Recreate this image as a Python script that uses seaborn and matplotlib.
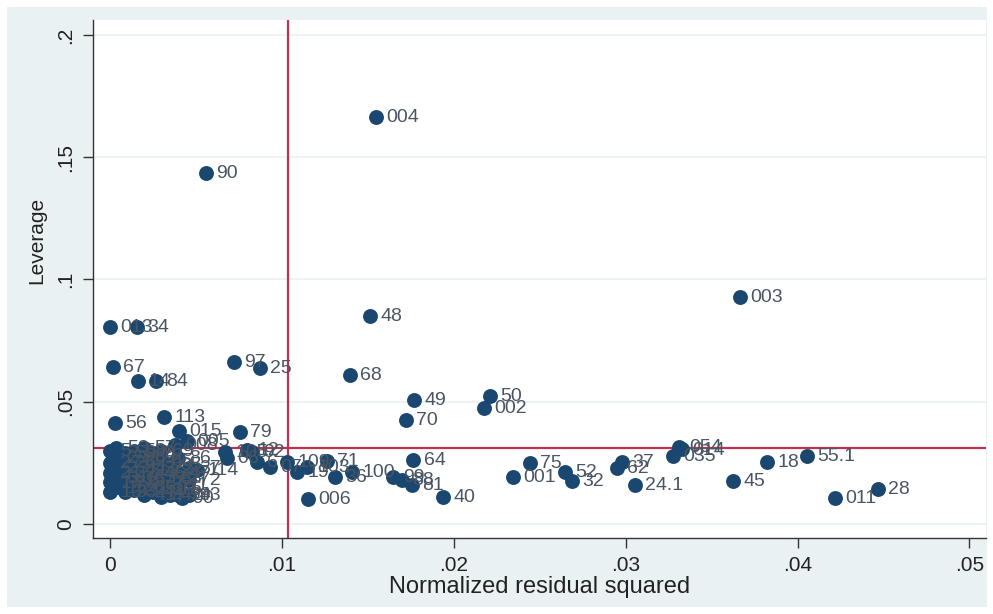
import matplotlib
matplotlib.use("Agg")
import matplotlib.pyplot as plt
import seaborn as sns
import pandas as pd
from matplotlib.patches import Rectangle

# ---- data ----
labels = ["004", "90", "003", "48", "013", "34", "67", "97", "25", "14", "84", "68",
          "56", "113", "015", "79", "49", "70", "50", "002", "64", "40", "006", "71",
          "75", "001", "52", "32", "37", "62", "24.1", "054", "014", "035", "45", "18",
          "55.1", "011", "28",
          "105", "06", "12", "92", "6", "07", "109", "19", "103", "36", "100", "99", "88", "81",
          "008", "005",
          "5", "27", "21", "17", "13",
          "53", "29", "23", "61", "15",
          "59", "26", "22", "78", "33",
          "58", "39", "42", "16", "20",
          "57", "89", "43", "63", "65", "41",
          "9", "31", "46", "77", "44",
          "69", "85", "73", "55", "66", "4",
          "95", "83", "76", "42", "86",
          "47", "11", "94", "90",
          "37", "72", "93",
          "114"]
resid = [0.01549, 0.0056, 0.03665, 0.01514, 0.0000, 0.00157, 0.0002, 0.00724, 0.00875, 0.00165, 0.00270, 0.01398,
         0.0003, 0.00316, 0.00403, 0.00758, 0.0177, 0.01723, 0.02211, 0.02177, 0.01765, 0.01939, 0.01153, 0.01264,
         0.02444, 0.02345, 0.02648, 0.02688, 0.02979, 0.0295, 0.03055, 0.0331, 0.0333, 0.03276, 0.03625, 0.03822,
         0.04055, 0.04217, 0.04467,
         0.00672, 0.00683, 0.0080, 0.0083, 0.00857, 0.00933, 0.01031, 0.0109, 0.01147, 0.0131, 0.0141, 0.01648, 0.01701, 0.01759,
         0.0038, 0.0045,
         0.0000, 0.0000, 0.0000, 0.0000, 0.0000,
         0.0004, 0.0004, 0.0004, 0.0004, 0.0004,
         0.0009, 0.0009, 0.0009, 0.0009, 0.0009,
         0.0014, 0.0014, 0.0014, 0.0014, 0.0014,
         0.0020, 0.0020, 0.0020, 0.0020, 0.0020, 0.0020,
         0.0025, 0.0025, 0.0025, 0.0025, 0.0025,
         0.0030, 0.0030, 0.0030, 0.0030, 0.0030, 0.0030,
         0.0035, 0.0035, 0.0035, 0.0035, 0.0040,
         0.0040, 0.0040, 0.0040, 0.0042,
         0.0046, 0.0046, 0.0046,
         0.0051]
leverage = [0.1665, 0.1436, 0.0928, 0.0851, 0.0806, 0.0806, 0.0642, 0.0662, 0.0638, 0.0585, 0.0585, 0.0609,
            0.0413, 0.0438, 0.0380, 0.0376, 0.0507, 0.0425, 0.0524, 0.0474, 0.0262, 0.0110, 0.0102, 0.0258,
            0.0249, 0.0192, 0.0213, 0.0176, 0.0254, 0.0229, 0.0160, 0.0315, 0.0305, 0.0280, 0.0176, 0.0254,
            0.0278, 0.0106, 0.0143,
            0.0294, 0.0270, 0.0303, 0.0295, 0.0254, 0.0233, 0.0254, 0.0213, 0.0233, 0.0192, 0.0213, 0.0192, 0.0180, 0.0160,
            0.0323, 0.0339,
            0.030, 0.025, 0.021, 0.017, 0.013,
            0.031, 0.027, 0.023, 0.019, 0.015,
            0.029, 0.025, 0.021, 0.017, 0.013,
            0.030, 0.026, 0.022, 0.018, 0.014,
            0.031, 0.027, 0.023, 0.019, 0.015, 0.012,
            0.029, 0.025, 0.021, 0.017, 0.013,
            0.030, 0.026, 0.022, 0.018, 0.014, 0.011,
            0.024, 0.019, 0.015, 0.012, 0.027,
            0.021, 0.016, 0.012, 0.0106,
            0.023, 0.018, 0.012,
            0.022]

mean_resid = 0.01037
lev_cut = 0.0311
x_ticks = [0, 0.01, 0.02, 0.03, 0.04, 0.05]
x_tick_labels = ["0", ".01", ".02", ".03", ".04", ".05"]
y_ticks = [0, 0.05, 0.1, 0.15, 0.2]
y_tick_labels = ["0", ".05", ".1", ".15", ".2"]

df = pd.DataFrame({"resid": resid, "lev": leverage, "label": labels})

# ---- style ----
sns.set_theme(style="white")
plt.rcParams["font.family"] = ["Liberation Sans", "DejaVu Sans"]

navy = "#1a476f"
label_col = "#4a5563"
ref_col = "#c1304c"
bg = "#eaf1f3"

fig = plt.figure(figsize=(9.93, 6.14), dpi=100)
fig.patch.set_facecolor("white")
fig.patches.append(Rectangle((7 / 993, 7 / 614), (987 - 7) / 993, (607 - 7) / 614,
                             transform=fig.transFigure, facecolor=bg, edgecolor="none", zorder=-10))

ax = fig.add_axes([93 / 993, (614 - 538) / 614, (986 - 93) / 993, (538 - 20) / 614])
ax.set_facecolor("white")

for yt in y_ticks:
    ax.axhline(yt, color="#eaf1f3", lw=1.2, zorder=0)

ax.axvline(mean_resid, color=ref_col, lw=1.6, zorder=1)
ax.axhline(lev_cut, color=ref_col, lw=1.6, zorder=1)

sns.scatterplot(data=df, x="resid", y="lev", ax=ax, color=navy, s=115,
                edgecolor=navy, linewidth=0, zorder=3, legend=False)

for _, r in df.iterrows():
    ax.annotate(r["label"], (r["resid"], r["lev"]), xytext=(7.5, -0.5), textcoords="offset points",
                ha="left", va="center", fontsize=14, color=label_col, zorder=4)

ax.set_xlim(-0.000965, 0.05096)
ax.set_ylim(-0.00573, 0.2061)
ax.set_xticks(x_ticks)
ax.set_xticklabels(x_tick_labels)
ax.set_yticks(y_ticks)
ax.set_yticklabels(y_tick_labels, rotation=90, va="center")
ax.tick_params(axis="both", direction="out", length=7, width=1, color="#333333",
               labelsize=15, labelcolor="#222222", left=True, bottom=True)
ax.tick_params(axis="y", pad=6)
ax.tick_params(axis="x", pad=6)

for side in ["top", "right"]:
    ax.spines[side].set_visible(False)
for side in ["left", "bottom"]:
    ax.spines[side].set_color("#333333")
    ax.spines[side].set_linewidth(1)

ax.set_xlabel("Normalized residual squared", fontsize=17, color="#222222", labelpad=1)
ax.set_ylabel("Leverage", fontsize=15, color="#222222", labelpad=5)
ax.yaxis.set_label_coords(-0.052, (538 - 240) / 518)

fig.savefig("out.png", dpi=100, facecolor=fig.get_facecolor())
